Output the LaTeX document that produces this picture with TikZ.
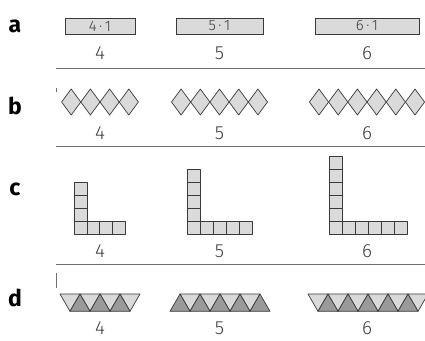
\documentclass[tikz,border=0pt]{standalone}
\usepackage{fontspec}
\setmainfont{Fira Sans}
\newfontfamily\numfont{Fira Sans Light}

\definecolor{tilefill}{HTML}{DADADA}
\definecolor{darkfill}{HTML}{9A9A9A}
\definecolor{edgegray}{HTML}{3A3A3A}
\definecolor{numgray}{HTML}{3C3C3C}
\definecolor{rulegray}{HTML}{707070}

\begin{document}
\begin{tikzpicture}
        [x=1pt, y=-1pt,
         lbl/.style={inner sep=0pt, font=\bfseries\fontsize{23}{23}\selectfont},
         num/.style={inner sep=0pt, text=numgray, font=\numfont\fontsize{19}{19}\selectfont},
         tag/.style={rectangle, draw=edgegray, fill=tilefill, line width=0.8pt,
                     inner sep=0pt, minimum height=16pt, text=numgray,
                     font=\numfont\fontsize{15}{15}\selectfont},
         tile/.style={draw=edgegray, fill=tilefill, line width=0.7pt, line join=round},
         darktile/.style={tile, fill=darkfill},
         rule/.style={draw=rulegray, line width=0.9pt}]
        \useasboundingbox (0,0) rectangle (425,340);

        % row a: strips
        \node (a)     at (15, 26)[lbl] {a};
        \node (tag4)  at (100, 26)[tag, minimum width=70pt] {4\,·\,1};
        \node (tag5)  at (219.5, 26)[tag, minimum width=87pt] {5\,·\,1};
        \node (tag6)  at (367, 26)[tag, minimum width=104pt] {6\,·\,1};
        \node (a4) at (100, 53)[num] {4};
        \node (a5) at (219.5, 53)[num] {5};
        \node (a6) at (367, 53)[num] {6};
        \draw [rule] (56, 68.3) -- (425, 68.3);

        % row b: diamonds
        \node (b) at (15, 106)[lbl] {b};
        \draw [rulegray, line width=0.6pt] (56.5, 88) -- (56.5, 92);
        \foreach \n/\x in {4/61.6, 5/171.5, 6/309.4}
            \foreach \i in {1,...,\n}
                \draw [tile] ({\x+(\i-1)*19.2}, 102) -- ++(9.6, -13) -- ++(9.6, 13)
                    -- ++(-9.6, 13) -- cycle;
        \node (b4) at (100, 133.5)[num] {4};
        \node (b5) at (219.5, 133.5)[num] {5};
        \node (b6) at (367, 133.5)[num] {6};
        \draw [rule] (56, 146.7) -- (425, 146.7);

        % row c: L shapes
        \node (c) at (15, 189)[lbl] {c};
        \foreach \n/\x in {4/74, 5/187.5, 6/329.5} {
            \foreach \i in {1,...,\n}
                \draw [tile] ({\x+(\i-1)*12.9}, 234) rectangle ++(12.9, -12.9);
            \foreach \j in {2,...,\n}
                \draw [tile] (\x, {234-(\j-1)*12.9}) rectangle ++(12.9, -12.9);
        }
        \node (c4) at (100, 251)[num] {4};
        \node (c5) at (219.5, 251)[num] {5};
        \node (c6) at (367, 251)[num] {6};
        \draw [rule] (56, 264) -- (425, 264);

        % row d: triangles
        \node (d) at (15, 298)[lbl] {d};
        \draw [rulegray, line width=0.6pt] (56.5, 273) -- (56.5, 288);
        % 4: four down, three up
        \foreach \i in {0,...,3}
            \draw [tile] ({60+20*\i}, 294) -- ++(20, 0) -- ++(-10, 17.3) -- cycle;
        \foreach \i in {0,...,2}
            \draw [darktile] ({70+20*\i}, 311.3) -- ++(20, 0) -- ++(-10, -17.3) -- cycle;
        % 5: four down, five up
        \foreach \i in {0,...,3}
            \draw [tile] ({180+20*\i}, 294) -- ++(20, 0) -- ++(-10, 17.3) -- cycle;
        \foreach \i in {0,...,4}
            \draw [darktile] ({170+20*\i}, 311.3) -- ++(20, 0) -- ++(-10, -17.3) -- cycle;
        % 6: six down, five up
        \foreach \i in {0,...,5}
            \draw [tile] ({308+20*\i}, 294) -- ++(20, 0) -- ++(-10, 17.3) -- cycle;
        \foreach \i in {0,...,4}
            \draw [darktile] ({318+20*\i}, 311.3) -- ++(20, 0) -- ++(-10, -17.3) -- cycle;
        \node (d4) at (100, 328)[num] {4};
        \node (d5) at (219.5, 328)[num] {5};
        \node (d6) at (367, 328)[num] {6};
    \end{tikzpicture}
\end{document}
